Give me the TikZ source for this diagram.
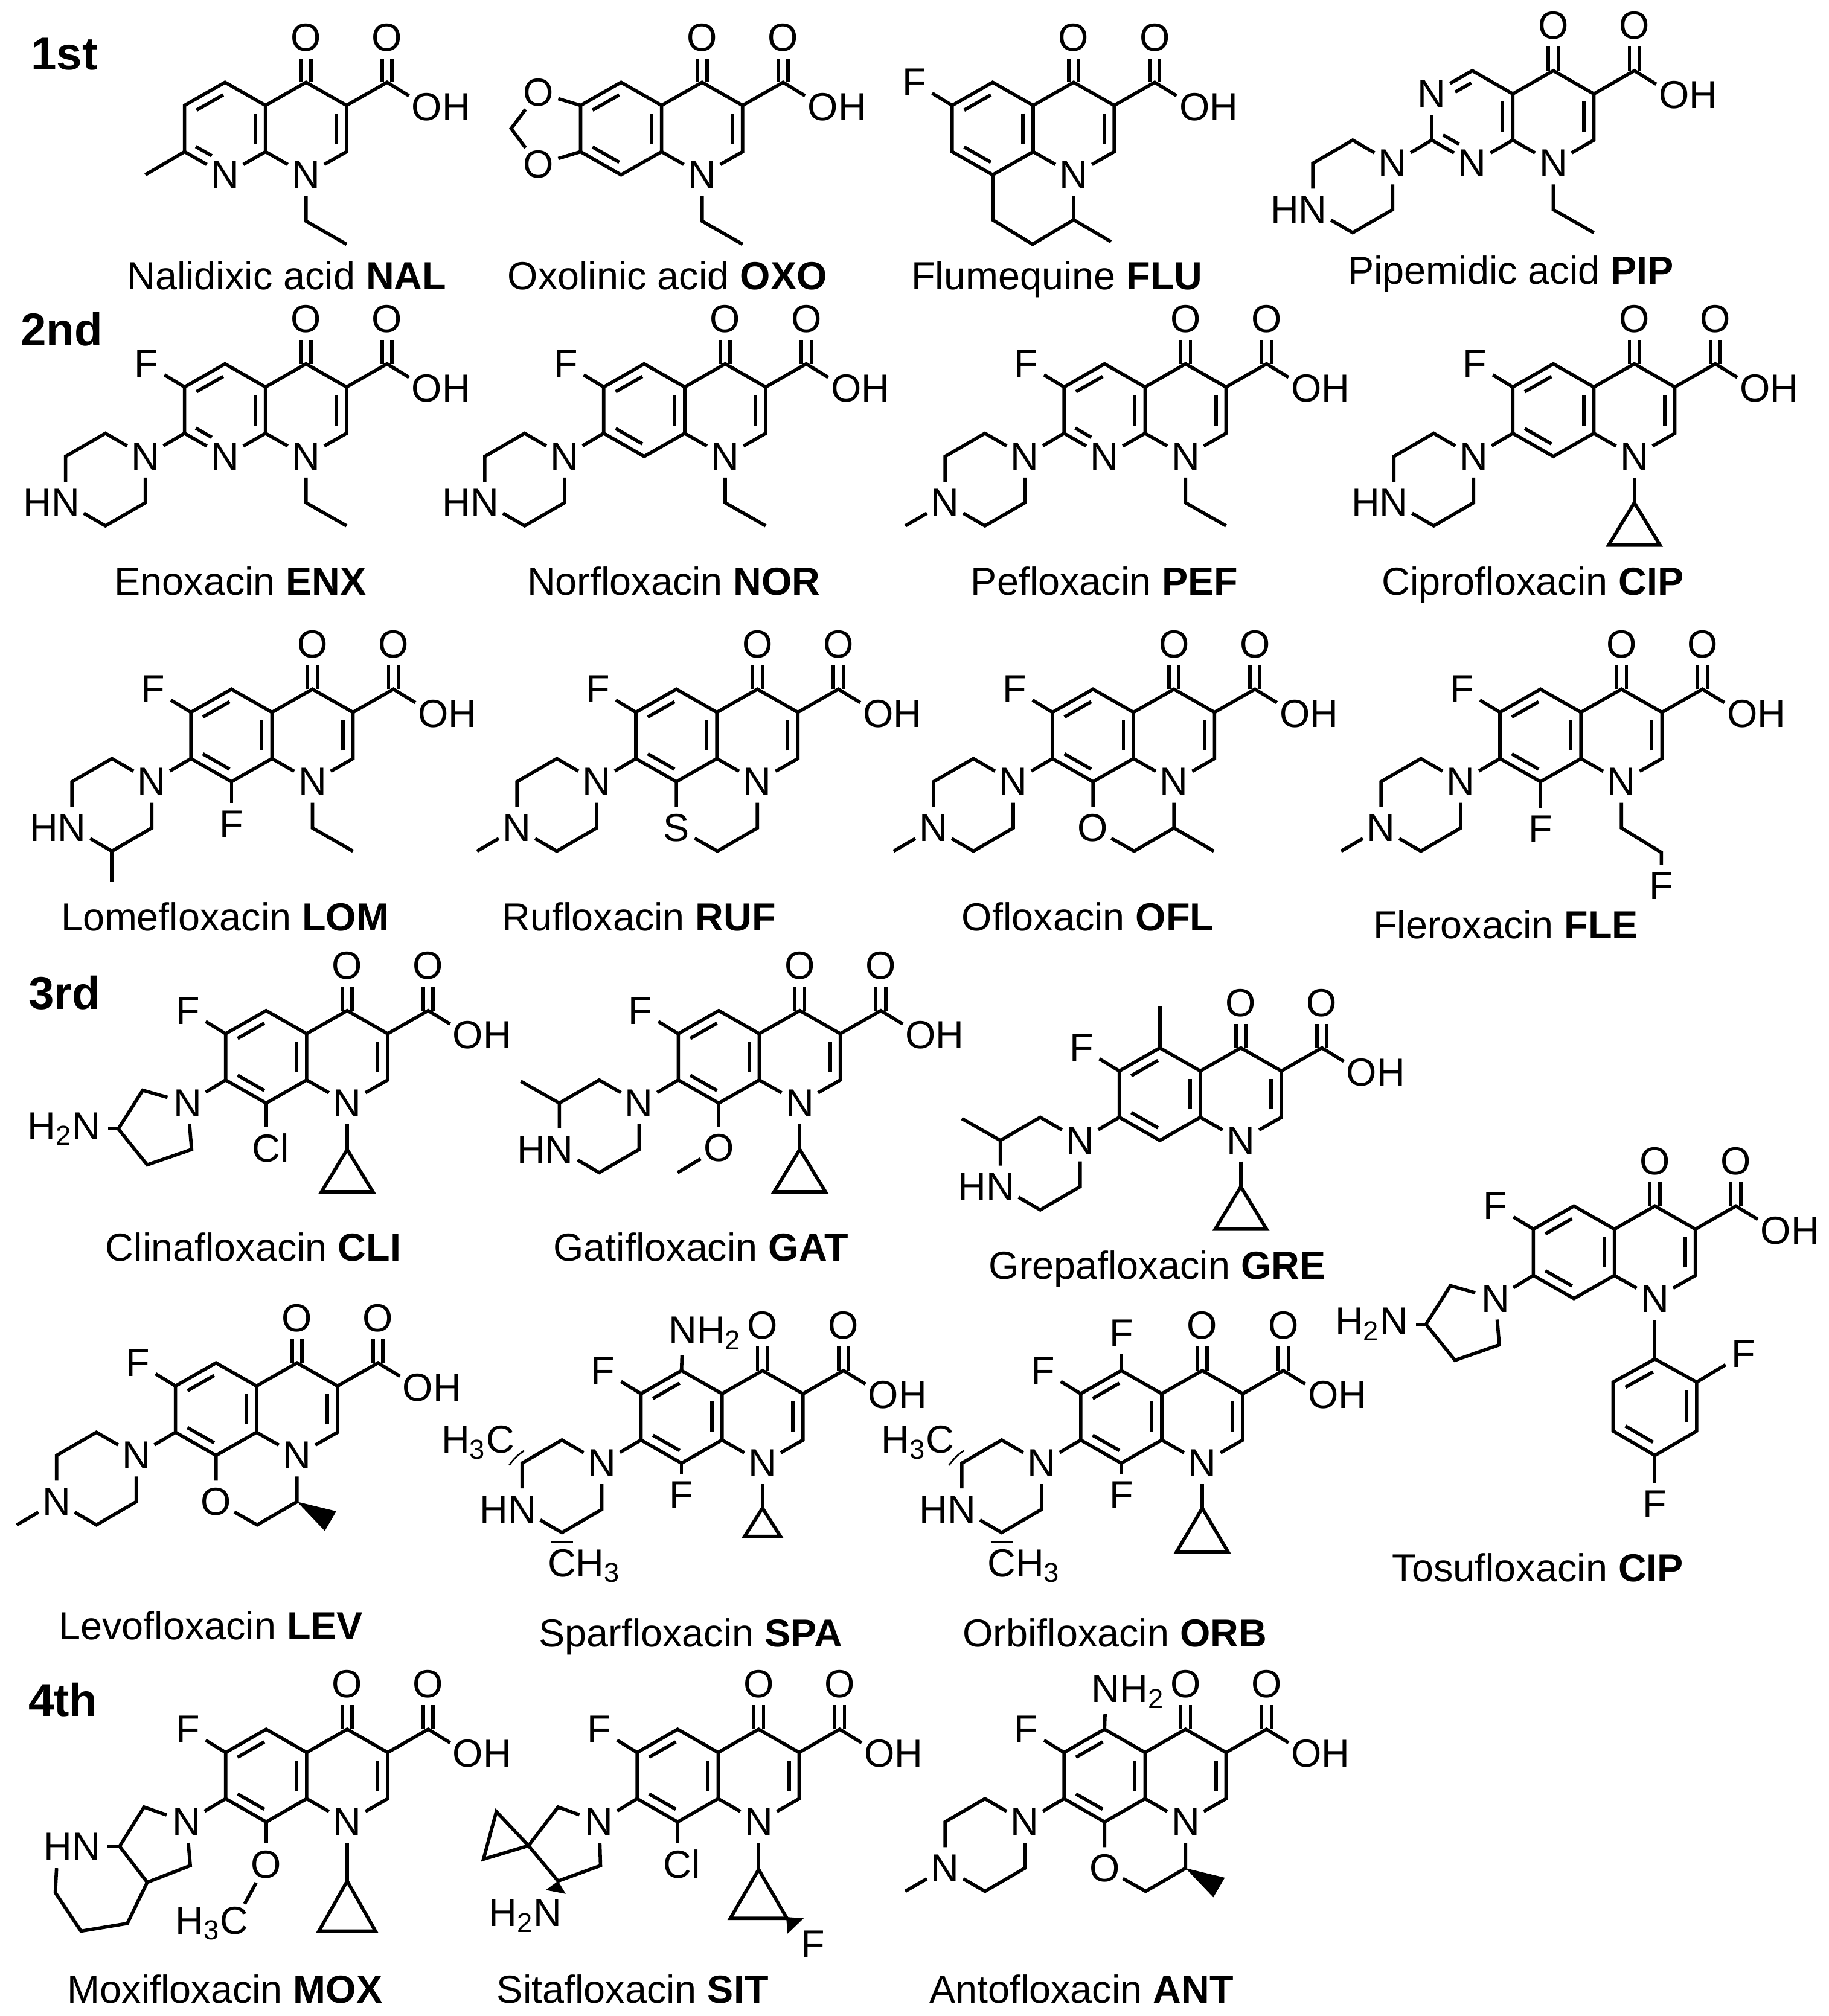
\documentclass[tikz,border=0pt]{standalone}
\usepackage{fontspec}
\setmainfont{Liberation Sans}
\usetikzlibrary{calc}

\newcommand{\dbl}[3]{\draw[bond] ($($(#1)!.06!(#2)$)!.25!(#3)$) -- ($($(#2)!.06!(#1)$)!.25!(#3)$);}

\newcommand{\acidpart}{
  \node[atom] (-n1) at (0,0) {N};
  \coordinate (-c2) at (31.5,18);
  \coordinate (-c3) at (31.5,54);
  \coordinate (-c4) at (0,72);
  \coordinate (-c4a) at (-31.5,54);
  \coordinate (-c8a) at (-31.5,18);
  \coordinate (-cc) at (63,72);
  \coordinate (-r) at (0,36);
  \coordinate (-l) at (-63,36);
  \coordinate (-c5) at (-63,72);
  \node[atom] (-o4) at (0,107) {O};
  \node[atom] (-o3) at (63,107) {O};
  \node[atom] (-oh) at (94,53) {O\rlap{H}};
  \draw[dbond] (-c4) -- (-o4);
  \draw[dbond] (-cc) -- (-o3);
  \draw[bond] (-n1) -- (-c2) -- (-c3) -- (-c4) -- (-c4a) -- (-c8a) -- (-n1);
  \draw[bond] (-c3) -- (-cc) -- (-oh);
  \dbl{-c2}{-c3}{-r}
  \dbl{-c4a}{-c8a}{-l}
}

\newcommand{\pipring}[1]{
  \node[atom] (-n4) at (-125,0) {N};
  \coordinate (-p2) at (-156,18);
  \coordinate (-p3) at (-187,0);
  \node[atom] (-p4) at (-187,-36) {#1};
  \coordinate (-p5) at (-156,-54);
  \coordinate (-p6) at (-125,-36);
  \draw[bond] (-c7) -- (-n4);
  \draw[bond] (-n4) -- (-p2) -- (-p3) -- (-p4) -- (-p5) -- (-p6) -- (-n4);
}

\tikzset{
  bond/.style={line width=1.5pt},
  dbond/.style={line width=1.5pt, double, double distance=.1cm},
  atom/.style={circle, inner sep=0pt, minimum size=.64cm, font=\fontsize{17.3}{20}\selectfont},
  caption/.style={inner sep=0pt, text height=15.6pt, text depth=3.1pt, font=\fontsize{17.3}{20}\selectfont},
  gen/.style={inner sep=0pt, font=\fontsize{20.4}{24}\selectfont\bfseries},
  wedge/.style={fill=black, draw=none},
  hash/.style={line width=.7pt},
  pics/quin/.style={code={
    \acidpart
    \coordinate (-c6) at (-94.5,54);
    \coordinate (-c7) at (-94.5,18);
    \coordinate (-c8) at (-63,0);
    \draw[bond] (-c4a) -- (-c5) -- (-c6) -- (-c7) -- (-c8) -- (-c8a);
    \dbl{-c5}{-c6}{-l}
    \dbl{-c7}{-c8}{-l}
  }},
  pics/naph/.style={code={
    \acidpart
    \coordinate (-c6) at (-94.5,54);
    \coordinate (-c7) at (-94.5,18);
    \node[atom] (-c8) at (-63,0) {N};
    \coordinate (-m) at ($(-c7)!.6!(-c8)$);
    \draw[bond] (-c4a) -- (-c5) -- (-c6) -- (-c7) -- (-c8) -- (-c8a);
    \dbl{-c5}{-c6}{-l}
    \dbl{-c7}{-m}{-l}
  }},
  pics/pyrim/.style={code={
    \acidpart
    \node[atom] (-c6) at (-94.5,54) {N};
    \coordinate (-c7) at (-94.5,18);
    \node[atom] (-c8) at (-63,0) {N};
    \coordinate (-m) at ($(-c7)!.6!(-c8)$);
    \coordinate (-q) at ($(-c5)!.6!(-c6)$);
    \draw[bond] (-c4a) -- (-c5) -- (-c6) -- (-c7) -- (-c8) -- (-c8a);
    \dbl{-c5}{-q}{-l}
    \dbl{-c7}{-m}{-l}
  }},
  pics/fsix/.style={code={
    \node[atom] (-f6) at (-124,72) {F};
    \draw[bond] (-c6) -- (-f6);
  }},
  pics/ethyl/.style={code={
    \coordinate (-e1) at (0,-36);
    \coordinate (-e2) at (31.5,-54);
    \draw[bond] (-n1) -- (-e1) -- (-e2);
  }},
  pics/cprop/.style n args={3}{code={
    \coordinate (-t1) at (0,#1);
    \coordinate (-t2) at (-#2,#3);
    \coordinate (-t3) at (#2,#3);
    \draw[bond] (-n1) -- (-t1);
    \draw[bond] (-t1) -- (-t2) -- (-t3) -- cycle;
  }},
  pics/hnpip/.style={code={\pipring{\llap{H}N}}},
  pics/mepip/.style={code={
    \pipring{N}
    \coordinate (-pm) at (-218,-54);
    \draw[bond] (-p4) -- (-pm);
  }},
  pics/subeight/.style 2 args={code={
    \node[atom] (-x8) at (-63,#1) {#2};
    \draw[bond] (-c8) -- (-x8);
  }},
  pics/fused/.style={code={
    \node[atom] (-x8) at (-63,-36) {#1};
    \coordinate (-y1) at (-31,-54);
    \coordinate (-y2) at (0,-36);
    \draw[bond] (-c8) -- (-x8) -- (-y1) -- (-y2) -- (-n1);
  }},
  pics/pyrr/.style={code={
    \node[atom] (-n4) at (-124,0) {N};
    \coordinate (-a2) at (-159,10);
    \coordinate (-a3) at (-178,-20);
    \coordinate (-a4) at (-155.5,-48);
    \coordinate (-a5) at (-121,-36);
    \node[atom] (-nh) at (-203,-20) {\llap{H\textsubscript{2}}N};
    \draw[bond] (-c7) -- (-n4);
    \draw[bond] (-n4) -- (-a2) -- (-a3) -- (-a4) -- (-a5) -- (-n4);
    \draw[bond] (-a3) -- (-nh);
  }},
  pics/dimeth/.style={code={
    \node[atom] (-hc) at (-204,16) {\llap{H\textsubscript{3}}C};
    \node[atom] (-ch) at (-156,-80) {C\rlap{H\textsubscript{3}}};
    \draw[hash] (-197,-1.6) to[bend left=10] (-185.4,9.7);
    \draw[hash] (-164.6,-61.4) -- (-147.4,-61.4);
  }},
}

\begin{document}
\begin{tikzpicture}[x=.02cm, y=.02cm]
      \useasboundingbox (0,0) rectangle (1422,-1568);

      \node[gen] (first) at (50,-42) {1st};
      \node[gen] (second) at (48,-256) {2nd};
      \node[gen] (third) at (50,-772) {3rd};
      \node[gen] (fourth) at (49,-1322) {4th};

      % 1st
      \begin{scope}[shift={(238,-136)}]
        \pic (nal) {naph};
        \pic (nal) {ethyl};
        \coordinate (nal-me) at (-125,0);
        \draw[bond] (nal-c7) -- (nal-me);
      \end{scope}
      \node[caption] (capnal) at (223,-214) {Nalidixic acid \textbf{NAL}};

      \begin{scope}[shift={(546,-136)}]
        \pic (oxo) {quin};
        \pic (oxo) {ethyl};
        \node[atom] (oxo-o1) at (-127.5,64) {O};
        \node[atom] (oxo-o2) at (-127.5,8) {O};
        \coordinate (oxo-ch) at (-148.5,36);
        \draw[bond] (oxo-c6) -- (oxo-o1) -- (oxo-ch) -- (oxo-o2) -- (oxo-c7);
      \end{scope}
      \node[caption] (capoxo) at (519,-214) {Oxolinic acid \textbf{OXO}};

      \begin{scope}[shift={(835,-136)}]
        \pic (flu) {quin};
        \pic (flu) {fsix};
        \coordinate (flu-a) at (-63,-35);
        \coordinate (flu-b) at (-32,-54);
        \coordinate (flu-d) at (0,-35);
        \coordinate (flu-e) at (29,-52);
        \draw[bond] (flu-c8) -- (flu-a) -- (flu-b) -- (flu-d) -- (flu-n1);
        \draw[bond] (flu-d) -- (flu-e);
      \end{scope}
      \node[caption] (capflu) at (822,-214) {Flumequine \textbf{FLU}};

      \begin{scope}[shift={(1208,-127)}]
        \pic (pip) {pyrim};
        \pic (pip) {ethyl};
        \pic (pip) {hnpip};
      \end{scope}
      \node[caption] (cappip) at (1175,-210) {Pipemidic acid \textbf{PIP}};

      % 2nd
      \begin{scope}[shift={(238,-355)}]
        \pic (enx) {naph};
        \pic (enx) {fsix};
        \pic (enx) {hnpip};
        \pic (enx) {ethyl};
      \end{scope}
      \node[caption] (capenx) at (187,-452) {Enoxacin \textbf{ENX}};

      \begin{scope}[shift={(564,-355)}]
        \pic (nor) {quin};
        \pic (nor) {fsix};
        \pic (nor) {hnpip};
        \pic (nor) {ethyl};
      \end{scope}
      \node[caption] (capnor) at (524,-452) {Norfloxacin \textbf{NOR}};

      \begin{scope}[shift={(922,-355)}]
        \pic (pef) {naph};
        \pic (pef) {fsix};
        \pic (pef) {mepip};
        \pic (pef) {ethyl};
      \end{scope}
      \node[caption] (cappef) at (859,-452) {Pefloxacin \textbf{PEF}};

      \begin{scope}[shift={(1271,-355)}]
        \pic (cip) {quin};
        \pic (cip) {fsix};
        \pic (cip) {hnpip};
        \pic (cip) {cprop={-36}{20}{-69}};
      \end{scope}
      \node[caption] (capcip) at (1192,-452) {Ciprofloxacin \textbf{CIP}};

      \begin{scope}[shift={(243,-608)}]
        \pic (lom) {quin};
        \pic (lom) {fsix};
        \pic (lom) {hnpip};
        \pic (lom) {ethyl};
        \pic (lom) {subeight={-33}{F}};
        \coordinate (lom-me) at (-156,-78);
        \draw[bond] (lom-p5) -- (lom-me);
      \end{scope}
      \node[caption] (caplom) at (175,-713) {Lomefloxacin \textbf{LOM}};

      \begin{scope}[shift={(589,-608)}]
        \pic (ruf) {quin};
        \pic (ruf) {fsix};
        \pic (ruf) {mepip};
        \pic (ruf) {fused=S};
      \end{scope}
      \node[caption] (capruf) at (497,-713) {Rufloxacin \textbf{RUF}};

      \begin{scope}[shift={(913,-608)}]
        \pic (ofl) {quin};
        \pic (ofl) {fsix};
        \pic (ofl) {mepip};
        \pic (ofl) {fused=O};
        \coordinate (ofl-me) at (31,-54);
        \draw[bond] (ofl-y2) -- (ofl-me);
      \end{scope}
      \node[caption] (capofl) at (846,-713) {Ofloxacin \textbf{OFL}};

      \begin{scope}[shift={(1261,-608)}]
        \pic (fle) {quin};
        \pic (fle) {fsix};
        \pic (fle) {mepip};
        \pic (fle) {subeight={-37}{F}};
        \coordinate (fle-a) at (0,-36);
        \coordinate (fle-b) at (31,-55);
        \node[atom] (fle-f) at (31,-81) {F};
        \draw[bond] (fle-n1) -- (fle-a) -- (fle-b) -- (fle-f);
      \end{scope}
      \node[caption] (capfle) at (1171,-719) {Fleroxacin \textbf{FLE}};

      % 3rd
      \begin{scope}[shift={(270,-858)}]
        \pic (cli) {quin};
        \pic (cli) {fsix};
        \pic (cli) {pyrr};
        \pic (cli) {subeight={-35}{C\rlap{l}}};
        \pic (cli) {cprop={-36}{20}{-69}};
      \end{scope}
      \node[caption] (capcli) at (197,-970) {Clinafloxacin \textbf{CLI}};

      \begin{scope}[shift={(622,-858)}]
        \pic (gat) {quin};
        \pic (gat) {fsix};
        \pic (gat) {hnpip};
        \pic (gat) {subeight={-35}{O}};
        \pic (gat) {cprop={-36}{20}{-69}};
        \coordinate (gat-me) at (-217,17);
        \coordinate (gat-om) at (-95,-54);
        \draw[bond] (gat-p3) -- (gat-me);
        \draw[bond] (gat-x8) -- (gat-om);
      \end{scope}
      \node[caption] (capgat) at (545,-970) {Gatifloxacin \textbf{GAT}};

      \begin{scope}[shift={(965,-887)}]
        \pic (gre) {quin};
        \pic (gre) {fsix};
        \pic (gre) {hnpip};
        \pic (gre) {cprop={-36}{20}{-69}};
        \coordinate (gre-me) at (-63,104);
        \coordinate (gre-mp) at (-217,17);
        \draw[bond] (gre-c5) -- (gre-me);
        \draw[bond] (gre-p3) -- (gre-mp);
      \end{scope}
      \node[caption] (capgre) at (900,-984) {Grepafloxacin \textbf{GRE}};

      \begin{scope}[shift={(1287,-1010)}]
        \pic (tos) {quin};
        \pic (tos) {fsix};
        \pic (tos) {pyrr};
        \coordinate (tos-a1) at (0,-47);
        \coordinate (tos-a2) at (32.5,-65);
        \coordinate (tos-a3) at (32.5,-103);
        \coordinate (tos-a4) at (0,-122);
        \coordinate (tos-a5) at (-32.5,-103);
        \coordinate (tos-a6) at (-32.5,-65);
        \coordinate (tos-ac) at (0,-84);
        \node[atom] (tos-f1) at (69,-43) {F};
        \node[atom] (tos-f2) at (0,-160) {F};
        \draw[bond] (tos-n1) -- (tos-a1);
        \draw[bond] (tos-a1) -- (tos-a2) -- (tos-a3) -- (tos-a4) -- (tos-a5) -- (tos-a6) -- cycle;
        \draw[bond] (tos-a2) -- (tos-f1);
        \draw[bond] (tos-a4) -- (tos-f2);
        \dbl{tos-a1}{tos-a6}{tos-ac}
        \dbl{tos-a2}{tos-a3}{tos-ac}
        \dbl{tos-a4}{tos-a5}{tos-ac}
      \end{scope}
      \node[caption] (captos) at (1196,-1219) {Tosufloxacin \textbf{CIP}};

      \begin{scope}[shift={(231,-1132)}]
        \pic (lev) {quin};
        \pic (lev) {fsix};
        \pic (lev) {mepip};
        \pic (lev) {fused=O};
        \fill[wedge] (lev-y2) -- (30.5,-43.4) -- (21.6,-58.7) -- cycle;
      \end{scope}
      \node[caption] (caplev) at (164,-1264) {Levofloxacin \textbf{LEV}};

      \begin{scope}[shift={(593,-1138)}]
        \pic (spa) {quin};
        \pic (spa) {fsix};
        \pic (spa) {hnpip};
        \pic (spa) {dimeth};
        \pic (spa) {subeight={-25}{F}};
        \pic (spa) {cprop={-35}{14}{-57}};
        \node[atom] (spa-nh) at (-62,101) {N\rlap{H\textsubscript{2}}};
        \draw[bond] (spa-c5) -- (spa-nh);
      \end{scope}
      \node[caption] (capspa) at (537,-1270) {Sparfloxacin \textbf{SPA}};

      \begin{scope}[shift={(935,-1138)}]
        \pic (orb) {quin};
        \pic (orb) {fsix};
        \pic (orb) {hnpip};
        \pic (orb) {dimeth};
        \pic (orb) {subeight={-25}{F}};
        \pic (orb) {cprop={-35}{20}{-69}};
        \node[atom] (orb-f5) at (-63,101) {F};
        \draw[bond] (orb-c5) -- (orb-f5);
      \end{scope}
      \node[caption] (caporb) at (867,-1270) {Orbifloxacin \textbf{ORB}};

      % 4th
      \begin{scope}[shift={(270,-1417)}]
        \pic (mox) {quin};
        \pic (mox) {fsix};
        \pic (mox) {subeight={-33}{O}};
        \pic (mox) {cprop={-46}{22}{-85}};
        \node[atom] (mox-n4) at (-125,0) {N};
        \coordinate (mox-a2) at (-158,11.5);
        \coordinate (mox-a3) at (-177,-19);
        \coordinate (mox-a4) at (-155.5,-47);
        \coordinate (mox-a5) at (-122,-34);
        \node[atom] (mox-nh) at (-203,-19) {\llap{H}N};
        \coordinate (mox-b1) at (-171,-79);
        \coordinate (mox-b2) at (-207,-85);
        \coordinate (mox-b3) at (-227,-55);
        \coordinate (mox-b4) at (-226,-36);
        \node[atom] (mox-hc) at (-88,-79) {\llap{H\textsubscript{3}}C};
        \draw[bond] (mox-c7) -- (mox-n4);
        \draw[bond] (mox-n4) -- (mox-a2) -- (mox-a3) -- (mox-a4) -- (mox-a5) -- (mox-n4);
        \draw[bond] (mox-a3) -- (mox-nh);
        \draw[bond] (mox-a4) -- (mox-b1) -- (mox-b2) -- (mox-b3) -- (mox-b4);
        \draw[bond] (mox-x8) -- (mox-hc);
      \end{scope}
      \node[caption] (capmox) at (175,-1547) {Moxifloxacin \textbf{MOX}};

      \begin{scope}[shift={(590,-1417)}]
        \pic (sit) {quin};
        \pic (sit) {fsix};
        \pic (sit) {subeight={-33}{C\rlap{l}}};
        \pic (sit) {cprop={-37}{22}{-75}};
        \node[atom] (sit-n4) at (-124,0) {N};
        \coordinate (sit-a2) at (-156,11.5);
        \coordinate (sit-a3) at (-179,-18.5);
        \coordinate (sit-a4) at (-156,-46);
        \coordinate (sit-a5) at (-123,-34);
        \coordinate (sit-s1) at (-204,8);
        \coordinate (sit-s2) at (-214,-29);
        \node[atom] (sit-nh) at (-164,-73) {\llap{H\textsubscript{2}}N};
        \node[atom] (sit-f) at (42,-95) {F};
        \draw[bond] (sit-c7) -- (sit-n4);
        \draw[bond] (sit-n4) -- (sit-a2) -- (sit-a3) -- (sit-a4) -- (sit-a5) -- (sit-n4);
        \draw[bond] (sit-a3) -- (sit-s1) -- (sit-s2) -- cycle;
        \fill[wedge] (sit-a4) -- (-165.5,-53) -- (-150,-56) -- cycle;
        \fill[wedge] (21.4,-74) -- (35,-75) -- (22.5,-87) -- cycle;
      \end{scope}
      \node[caption] (capsit) at (492,-1547) {Sitafloxacin \textbf{SIT}};

      \begin{scope}[shift={(922,-1417)}]
        \pic (ant) {quin};
        \pic (ant) {fsix};
        \pic (ant) {mepip};
        \pic (ant) {fused=O};
        \node[atom] (ant-nh) at (-62,101) {N\rlap{H\textsubscript{2}}};
        \draw[bond] (ant-c5) -- (ant-nh);
        \fill[wedge] (ant-y2) -- (30.5,-43.4) -- (21.6,-58.7) -- cycle;
      \end{scope}
      \node[caption] (capant) at (841,-1547) {Antofloxacin \textbf{ANT}};
\end{tikzpicture}
\end{document}
